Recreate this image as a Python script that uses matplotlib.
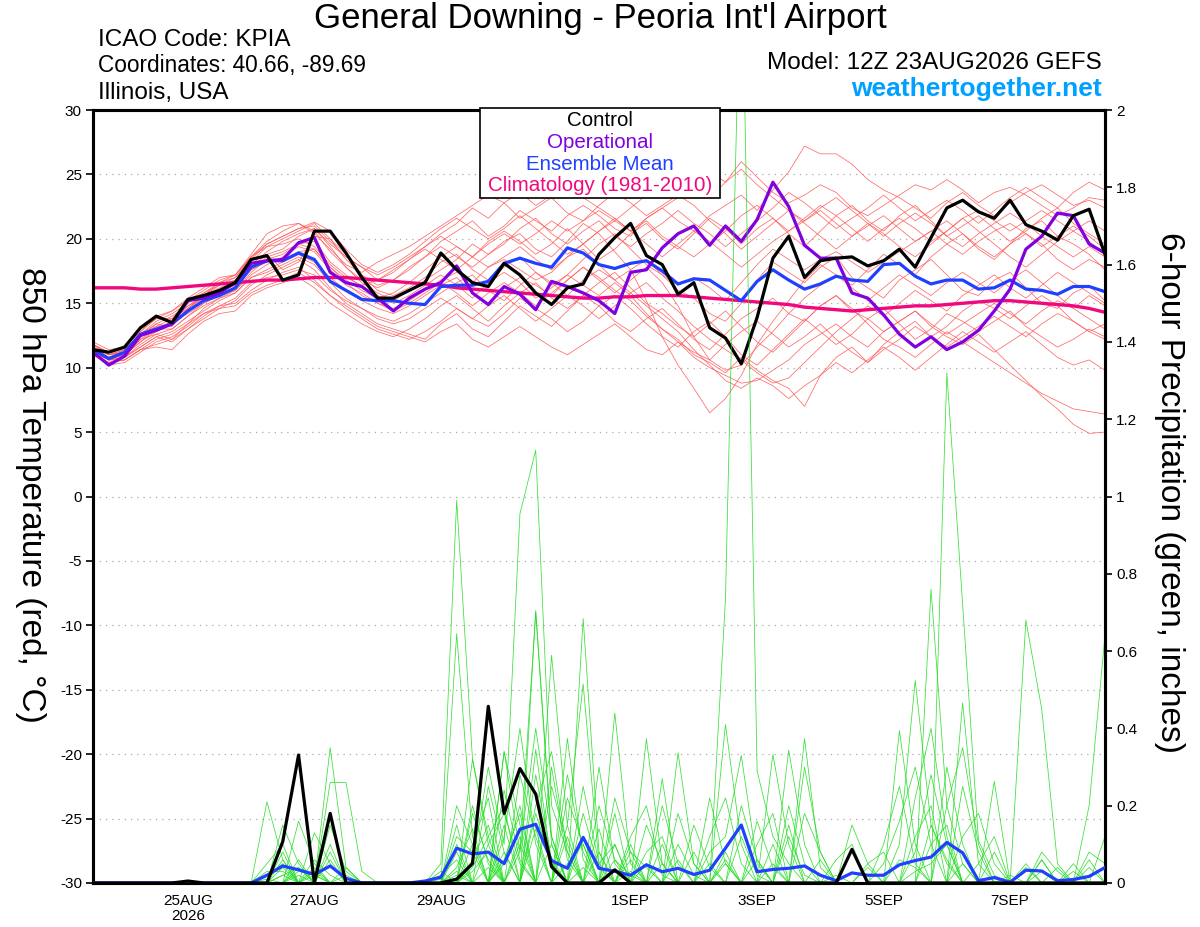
import numpy as np
import matplotlib
matplotlib.use("Agg")
import matplotlib.pyplot as plt
from matplotlib.patches import Rectangle

plt.rcParams['font.family'] = ['Liberation Sans', 'DejaVu Sans']

# 6-hourly steps, hours after 12Z 23AUG2026 (65 steps = 16 days)
hours = np.arange(0, 385, 6)

tick_hours = [36, 84, 132, 204, 252, 300, 348]
tick_labels = ['25AUG\n2026', '27AUG', '29AUG', '1SEP', '3SEP', '5SEP', '7SEP']

# ---- 850 hPa temperature (C) ----
control_t = [11.4, 11.2, 11.6, 13.1, 14.0, 13.5, 15.3, 15.6, 16.0, 16.6, 18.4, 18.7, 16.8,
             17.2, 20.6, 20.6, 18.9, 17.0, 15.4, 15.4, 16.0, 16.6, 18.9, 17.6, 16.6, 16.3,
             18.1, 17.2, 15.8, 14.9, 16.2, 16.5, 18.8, 20.1, 21.2, 18.7, 18.0, 15.7, 16.6,
             13.1, 12.3, 10.3, 13.9, 18.5, 20.2, 17.0, 18.3, 18.5, 18.6, 17.9, 18.3, 19.2,
             17.8, 20.1, 22.4, 23.0, 22.1, 21.6, 23.0, 21.1, 20.6, 19.9, 21.8, 22.3, 18.8]

oper_t = [11.2, 10.2, 10.9, 12.5, 12.9, 13.4, 15.2, 15.4, 15.8, 16.6, 18.1, 18.3, 18.4,
          19.7, 20.1, 17.4, 16.6, 16.3, 15.4, 14.4, 15.4, 16.1, 16.6, 17.9, 15.8, 14.9,
          16.3, 15.7, 14.5, 16.7, 16.3, 15.8, 15.2, 14.2, 17.4, 17.6, 19.3, 20.4, 21.0,
          19.5, 21.0, 19.8, 21.5, 24.4, 22.5, 19.5, 18.5, 18.5, 15.8, 15.4, 14.1, 12.6,
          11.6, 12.4, 11.4, 12.0, 12.9, 14.4, 16.1, 19.2, 20.2, 22.0, 21.8, 19.6, 18.9]

mean_t = [11.4, 10.7, 11.2, 12.6, 13.0, 13.4, 14.4, 15.2, 15.6, 16.2, 17.8, 18.3, 18.3,
          18.9, 18.4, 16.7, 16.0, 15.3, 15.2, 15.2, 15.0, 14.9, 16.3, 16.4, 16.4, 16.7,
          18.1, 18.5, 18.1, 17.8, 19.3, 18.9, 18.0, 17.7, 18.1, 18.3, 17.5, 16.5, 16.9,
          16.8, 16.0, 15.2, 16.7, 17.6, 16.8, 16.1, 16.5, 17.1, 16.8, 16.7, 18.0, 18.1,
          17.1, 16.5, 16.8, 16.8, 16.1, 16.2, 16.8, 16.1, 16.0, 15.7, 16.3, 16.3, 15.9]

clim_t = [16.2, 16.2, 16.2, 16.1, 16.1, 16.2, 16.3, 16.4, 16.5, 16.6, 16.7, 16.8, 16.8,
          16.9, 17.0, 17.0, 17.0, 16.9, 16.8, 16.7, 16.6, 16.5, 16.4, 16.2, 16.1, 16.0,
          15.9, 15.8, 15.7, 15.6, 15.5, 15.4, 15.4, 15.5, 15.5, 15.6, 15.6, 15.6, 15.5,
          15.4, 15.3, 15.2, 15.1, 15.0, 14.9, 14.7, 14.6, 14.5, 14.4, 14.5, 14.6, 14.7,
          14.8, 14.8, 14.9, 15.0, 15.1, 15.2, 15.2, 15.1, 15.0, 14.9, 14.8, 14.6, 14.3]

members_t = [
    [11.6, 10.8, 11.0, 12.2, 13.0, 13.6, 14.2, 15.0, 15.6, 16.0, 17.2, 18.0, 18.6,
     19.4, 19.0, 17.6, 16.4, 15.8, 15.0, 14.6, 15.2, 16.0, 16.8, 17.4, 16.6, 17.8,
     18.4, 17.6, 16.8, 17.4, 18.6, 19.2, 18.0, 16.8, 17.6, 18.4, 17.2, 16.0, 15.4,
     14.2, 13.6, 15.0, 16.8, 18.2, 17.4, 16.6, 17.8, 18.6, 17.0, 16.2, 15.4, 16.8,
     17.6, 18.4, 17.2, 16.0, 15.6, 16.8, 17.4, 16.2, 15.0, 14.6, 15.8, 16.4, 15.2],
    [11.2, 10.4, 10.6, 11.4, 11.8, 12.2, 13.0, 13.8, 14.6, 15.2, 16.4, 17.2, 17.8,
     18.4, 17.6, 16.2, 15.0, 14.2, 13.4, 13.0, 12.6, 12.2, 13.4, 14.2, 13.0, 12.4,
     13.6, 14.8, 14.0, 13.2, 14.4, 15.6, 14.8, 13.6, 12.8, 13.8, 14.6, 13.4, 12.2,
     11.4, 12.6, 13.8, 14.6, 15.4, 14.2, 13.6, 14.8, 15.6, 14.4, 13.8, 12.8, 13.6,
     14.4, 13.2, 12.4, 11.8, 12.6, 11.4, 10.2, 9.0, 7.8, 6.8, 5.6, 4.9, 5.0],
    [11.8, 11.0, 11.4, 12.6, 13.4, 13.2, 14.6, 15.4, 16.0, 16.4, 17.8, 18.8, 19.2,
     20.2, 20.8, 19.4, 17.8, 16.6, 15.8, 15.2, 16.0, 16.8, 17.6, 18.4, 19.6, 18.8,
     19.8, 20.4, 19.2, 18.6, 19.8, 21.2, 20.4, 19.0, 17.6, 15.2, 12.4, 10.2, 8.4,
     6.5, 7.6, 9.4, 11.8, 13.6, 15.2, 16.8, 18.0, 17.2, 16.4, 17.6, 18.8, 18.0,
     17.2, 18.6, 19.6, 20.4, 19.2, 18.4, 19.6, 20.8, 21.4, 20.2, 19.6, 18.8, 17.6],
    [11.4, 10.6, 10.8, 11.6, 12.4, 12.8, 13.6, 14.4, 15.2, 15.8, 17.0, 17.6, 18.2,
     18.8, 18.2, 17.0, 16.0, 15.2, 14.6, 14.2, 14.8, 15.6, 16.4, 17.0, 15.8, 15.0,
     16.2, 17.0, 16.4, 15.6, 16.8, 17.8, 17.0, 16.0, 15.2, 14.0, 13.0, 12.2, 11.0,
     10.4, 9.6, 10.8, 9.8, 9.0, 8.4, 7.0, 9.4, 10.8, 11.6, 10.4, 11.8, 12.8,
     13.6, 12.4, 13.2, 14.4, 15.2, 14.6, 13.8, 14.8, 15.6, 14.8, 13.6, 12.8, 12.2],
    [11.6, 11.0, 11.2, 12.4, 13.4, 14.0, 14.8, 15.6, 16.2, 16.8, 18.2, 19.4, 20.0,
     20.6, 21.2, 20.0, 18.4, 17.2, 16.4, 16.8, 17.6, 18.6, 19.8, 20.6, 21.4, 20.2,
     21.0, 22.2, 21.4, 20.6, 21.8, 22.6, 21.8, 20.8, 20.2, 21.6, 22.4, 21.4, 20.6,
     21.8, 22.6, 23.4, 22.2, 23.8, 25.2, 27.2, 26.6, 26.6, 25.8, 24.6, 23.8, 23.2,
     22.4, 21.6, 22.8, 23.6, 22.6, 21.8, 22.8, 23.6, 24.2, 23.4, 22.6, 23.0, 22.4],
    [11.8, 11.2, 11.6, 12.8, 13.8, 14.4, 15.2, 16.0, 16.8, 17.2, 18.6, 19.8, 20.6,
     21.2, 20.4, 19.2, 18.0, 17.4, 18.2, 18.8, 19.4, 20.2, 21.0, 21.8, 22.6, 23.4,
     22.8, 21.6, 22.4, 23.2, 22.0, 21.4, 22.6, 23.6, 22.8, 21.8, 22.6, 23.4, 24.6,
     25.2, 24.4, 26.0, 24.8, 23.6, 22.8, 23.4, 24.2, 23.6, 22.4, 21.8, 22.6, 23.4,
     24.2, 23.8, 24.6, 23.8, 22.8, 23.6, 24.0, 23.4, 22.6, 21.8, 22.4, 23.2, 23.0],
    [11.0, 10.2, 10.4, 11.2, 12.0, 12.4, 13.2, 14.2, 14.8, 15.0, 16.0, 16.8, 17.4,
     17.8, 16.8, 15.6, 14.6, 13.8, 13.0, 12.6, 12.2, 12.8, 13.6, 14.6, 13.8, 13.2,
     14.2, 15.4, 14.6, 13.8, 12.8, 13.6, 14.8, 15.6, 14.6, 13.4, 12.4, 11.6, 12.8,
     13.6, 12.4, 11.0, 10.2, 11.4, 12.6, 13.8, 12.8, 11.8, 12.6, 13.8, 14.6, 13.4,
     12.2, 13.0, 14.2, 13.6, 12.8, 13.6, 14.4, 13.2, 12.4, 11.6, 12.2, 13.0, 12.4],
    [11.4, 10.8, 11.0, 12.0, 12.8, 13.4, 14.4, 15.2, 15.8, 16.6, 18.0, 19.0, 19.8,
     20.4, 20.8, 19.6, 18.6, 17.8, 17.2, 17.8, 18.6, 19.4, 20.2, 19.4, 18.6, 19.8,
     20.6, 19.8, 18.8, 19.6, 20.8, 19.6, 18.4, 19.2, 20.4, 21.2, 20.0, 19.2, 20.4,
     21.6, 20.8, 19.6, 20.8, 21.6, 20.4, 19.4, 20.6, 21.8, 22.6, 21.4, 20.6, 21.8,
     22.6, 21.4, 20.2, 21.0, 21.8, 20.8, 19.8, 20.6, 21.6, 22.4, 21.2, 20.4, 19.6],
    [11.2, 10.6, 10.8, 11.8, 12.6, 13.0, 14.0, 14.8, 15.4, 16.0, 17.4, 18.4, 18.8,
     19.6, 19.8, 18.2, 17.2, 16.2, 15.6, 15.0, 15.6, 16.4, 17.2, 16.4, 15.4, 16.6,
     17.4, 16.6, 15.4, 16.2, 17.2, 16.4, 15.6, 16.6, 15.6, 14.2, 13.0, 12.0, 10.8,
     10.0, 9.4, 8.8, 9.0, 9.8, 10.6, 11.8, 12.6, 13.4, 12.4, 11.6, 12.8, 13.6,
     14.4, 13.4, 12.6, 13.4, 14.2, 15.0, 14.2, 13.4, 14.4, 15.2, 14.6, 13.8, 13.0],
    [11.6, 10.8, 11.2, 12.4, 13.2, 13.8, 14.6, 15.6, 16.4, 17.0, 18.4, 19.6, 20.2,
     20.8, 21.0, 19.8, 18.6, 17.8, 16.8, 17.4, 18.4, 19.4, 20.4, 21.2, 22.4, 21.6,
     22.8, 23.6, 22.6, 23.4, 24.2, 23.2, 22.4, 21.6, 20.6, 21.4, 20.2, 19.4, 18.6,
     19.6, 20.6, 21.8, 22.6, 21.6, 20.6, 21.4, 22.2, 21.2, 20.2, 21.0, 21.8, 20.8,
     19.8, 20.6, 21.4, 20.4, 19.4, 18.6, 19.6, 20.4, 19.6, 18.4, 17.6, 18.4, 17.8],
    [11.0, 10.4, 10.6, 11.4, 11.6, 11.4, 12.6, 13.6, 14.2, 14.4, 15.6, 16.2, 16.6,
     17.0, 16.2, 15.0, 14.2, 13.4, 12.8, 12.4, 13.0, 13.8, 14.8, 15.6, 14.6, 13.6,
     14.8, 15.8, 16.6, 15.4, 14.6, 15.6, 16.6, 17.4, 16.2, 15.0, 14.2, 13.2, 12.4,
     13.4, 14.4, 13.2, 12.0, 11.2, 12.4, 13.6, 14.8, 15.6, 14.6, 13.4, 12.2, 11.6,
     10.8, 11.8, 12.8, 12.0, 11.2, 10.4, 9.6, 8.8, 8.0, 7.4, 6.8, 6.6, 6.4],
    [11.8, 11.2, 11.6, 13.0, 13.8, 13.8, 15.2, 15.8, 16.4, 16.8, 18.4, 18.8, 17.6,
     18.2, 20.2, 20.0, 18.8, 17.2, 16.0, 15.6, 16.2, 17.0, 18.2, 18.8, 17.6, 16.8,
     17.8, 18.6, 17.4, 16.4, 17.2, 18.4, 19.6, 20.4, 19.2, 18.0, 17.2, 16.4, 17.0,
     16.2, 15.2, 16.6, 18.0, 19.2, 18.4, 17.6, 18.4, 19.0, 18.2, 17.4, 18.2, 19.0,
     19.8, 20.6, 19.6, 18.8, 19.8, 20.6, 21.2, 20.4, 19.4, 20.2, 21.0, 20.2, 19.2],
    [11.4, 10.6, 11.0, 12.2, 12.6, 12.2, 13.4, 14.6, 15.4, 15.8, 17.0, 17.4, 18.0,
     18.6, 18.0, 16.6, 15.4, 14.6, 14.0, 13.6, 14.2, 15.0, 15.8, 16.6, 17.2, 16.0,
     15.2, 16.4, 17.4, 16.6, 15.6, 16.8, 17.6, 16.8, 15.8, 16.6, 15.4, 14.4, 13.2,
     12.2, 11.4, 10.6, 9.6, 8.8, 9.2, 10.4, 11.6, 12.8, 13.8, 14.8, 14.0, 15.0,
     16.0, 15.2, 14.4, 15.6, 16.4, 17.2, 16.2, 15.4, 16.4, 17.4, 16.6, 15.8, 15.0],
    [12.0, 11.4, 11.6, 12.8, 14.0, 14.4, 15.4, 16.2, 17.0, 17.2, 18.8, 20.4, 21.0,
     21.2, 20.6, 19.0, 17.8, 16.8, 16.2, 16.8, 17.8, 18.6, 19.4, 18.6, 17.8, 18.8,
     19.6, 20.8, 21.6, 20.4, 19.6, 20.6, 21.4, 20.2, 19.4, 20.4, 21.2, 22.2, 21.2,
     20.4, 19.4, 20.4, 21.4, 22.4, 23.6, 22.8, 21.8, 20.8, 21.6, 22.4, 23.4, 22.4,
     21.4, 22.2, 23.0, 22.2, 21.2, 22.2, 23.2, 24.0, 23.2, 22.4, 23.6, 24.4, 23.8],
    [11.2, 10.6, 10.6, 11.4, 12.2, 12.6, 13.4, 14.2, 14.6, 14.8, 15.8, 16.4, 16.8,
     17.4, 16.6, 15.6, 14.8, 14.0, 13.2, 12.8, 12.4, 12.0, 12.8, 13.4, 12.2, 11.6,
     12.4, 13.2, 12.4, 11.6, 11.0, 11.8, 12.6, 13.4, 12.4, 11.4, 11.0, 12.0, 11.2,
     10.6, 11.8, 12.8, 13.6, 12.6, 11.6, 12.4, 13.4, 12.2, 11.2, 10.4, 11.4, 12.2,
     13.2, 12.4, 11.6, 12.4, 13.2, 14.0, 13.2, 12.4, 13.4, 14.2, 13.6, 12.8, 13.4],
    [11.4, 10.8, 11.4, 12.6, 13.6, 14.2, 15.0, 15.8, 16.6, 17.0, 18.6, 19.4, 19.6,
     20.0, 19.4, 18.0, 17.0, 16.4, 16.8, 17.6, 18.4, 19.2, 18.4, 17.6, 18.6, 19.6,
     20.4, 19.6, 20.4, 21.4, 20.6, 21.4, 22.2, 21.4, 22.4, 23.4, 24.2, 23.4, 22.6,
     21.4, 20.4, 19.2, 20.2, 21.2, 22.2, 21.2, 20.2, 19.2, 20.2, 21.2, 20.4, 19.4,
     18.6, 19.6, 20.6, 21.6, 20.6, 19.6, 18.6, 17.8, 18.8, 19.8, 20.6, 19.8, 18.8],
    [11.6, 11.0, 11.2, 12.4, 13.0, 13.0, 14.0, 15.0, 15.6, 16.2, 17.6, 18.2, 18.4,
     19.0, 19.2, 17.8, 16.6, 15.6, 15.0, 14.4, 15.0, 15.8, 16.6, 15.8, 14.8, 15.8,
     16.6, 15.8, 14.8, 15.8, 16.8, 17.8, 16.8, 15.8, 16.8, 17.8, 16.6, 14.8, 12.4,
     10.6, 9.8, 10.2, 11.6, 12.8, 14.2, 15.4, 16.4, 17.2, 16.2, 15.2, 16.2, 17.2,
     16.4, 15.6, 16.6, 17.4, 16.6, 15.8, 16.8, 17.6, 16.6, 15.6, 14.6, 15.6, 14.8],
    [11.8, 11.0, 11.4, 12.6, 13.2, 13.4, 14.6, 15.6, 16.6, 17.2, 18.6, 19.6, 20.2,
     20.8, 21.3, 20.6, 19.2, 18.0, 17.4, 18.0, 18.8, 19.8, 20.8, 21.6, 20.8, 20.0,
     20.8, 21.8, 20.8, 19.8, 18.8, 19.6, 20.6, 21.6, 20.6, 19.6, 18.6, 19.6, 20.6,
     19.8, 18.8, 17.8, 18.8, 19.8, 20.6, 21.6, 22.6, 21.8, 20.8, 19.8, 20.8, 21.6,
     20.8, 19.8, 20.6, 21.6, 22.2, 21.4, 20.6, 21.4, 22.2, 21.4, 20.6, 21.4, 20.6],
    [11.0, 10.4, 10.8, 11.6, 12.4, 12.0, 13.0, 14.0, 14.8, 15.4, 16.6, 17.0, 17.2,
     17.6, 17.2, 16.0, 15.2, 14.6, 13.8, 13.4, 13.8, 14.6, 15.4, 14.6, 13.8, 14.8,
     15.6, 14.6, 13.6, 14.6, 15.6, 14.8, 13.8, 14.8, 15.8, 14.8, 13.8, 12.8, 11.4,
     10.2, 9.0, 8.4, 9.2, 8.6, 7.6, 8.6, 9.4, 10.4, 9.6, 10.6, 11.6, 10.8,
     9.8, 10.8, 11.8, 12.8, 12.0, 11.2, 12.0, 12.8, 11.8, 10.8, 10.2, 10.6, 9.8],
    [11.4, 10.6, 11.0, 12.0, 13.0, 13.6, 14.8, 15.4, 16.0, 16.4, 17.6, 18.6, 19.0,
     19.6, 19.2, 17.8, 16.8, 16.0, 15.4, 15.8, 16.6, 17.6, 18.6, 19.4, 18.6, 17.8,
     18.6, 19.4, 18.4, 17.6, 18.6, 19.6, 20.6, 21.4, 20.6, 21.6, 22.4, 23.2, 24.0,
     23.2, 24.4, 25.4, 24.2, 23.2, 22.2, 21.4, 22.4, 23.2, 22.2, 21.2, 20.2, 21.2,
     22.0, 21.2, 20.2, 19.4, 20.4, 21.2, 22.0, 21.2, 20.2, 19.4, 18.6, 19.4, 18.6],
]

# ---- 6-hour precipitation (inches) ----
control_p = [0, 0, 0, 0, 0, 0, 0.005, 0, 0, 0, 0, 0, 0.107,
             0.331, 0, 0.18, 0, 0, 0, 0, 0, 0, 0, 0.01, 0.05, 0.457,
             0.18, 0.296, 0.23, 0.042, 0, 0, 0, 0.034, 0, 0, 0, 0, 0,
             0, 0, 0, 0, 0, 0, 0, 0, 0, 0.087, 0, 0, 0,
             0, 0, 0, 0, 0, 0, 0, 0, 0, 0, 0, 0, 0]

mean_p = [0, 0, 0, 0, 0, 0, 0, 0, 0, 0, 0, 0.02, 0.044,
          0.034, 0.022, 0.044, 0.012, 0, 0, 0, 0, 0.005, 0.015, 0.09, 0.075, 0.08,
          0.05, 0.139, 0.152, 0.058, 0.038, 0.118, 0.038, 0.03, 0.02, 0.047, 0.029, 0.038, 0.022,
          0.033, 0.09, 0.15, 0.029, 0.035, 0.038, 0.044, 0.02, 0.006, 0.026, 0.02, 0.02, 0.047,
          0.058, 0.067, 0.105, 0.078, 0.006, 0.014, 0.002, 0.033, 0.031, 0.006, 0.009, 0.017, 0.04]

# non-zero steps of each member, {step index: inches}
members_p = [
    {11: 0.21, 12: 0.06, 22: 0.05, 23: 0.99, 24: 0.32, 25: 0.10, 27: 0.12, 30: 0.05, 31: 0.10,
     34: 0.03, 40: 0.05, 52: 0.03, 53: 0.05, 54: 0.10},
    {12: 0.15, 13: 0.05, 15: 0.35, 16: 0.04, 23: 0.645, 24: 0.12, 26: 0.34, 27: 0.08, 28: 0.70,
     29: 0.10, 33: 0.44, 34: 0.05, 40: 0.736, 41: 2.5, 42: 0.29, 43: 0.12, 44: 0.05, 55: 0.05},
    {15: 0.26, 16: 0.26, 17: 0.03, 24: 0.05, 25: 0.30, 26: 0.10, 27: 0.955, 28: 1.12, 29: 0.20,
     30: 0.08, 33: 0.10, 35: 0.373, 36: 0.05, 51: 0.10, 52: 0.524, 53: 0.15, 54: 0.05},
    {13: 0.16, 14: 0.05, 23: 0.20, 24: 0.10, 26: 0.15, 28: 0.705, 29: 0.12, 31: 0.684, 32: 0.08,
     37: 0.337, 38: 0.05, 45: 0.373, 46: 0.04, 53: 0.76, 54: 0.20, 55: 0.05},
    {12: 0.08, 14: 0.13, 15: 0.05, 22: 0.03, 24: 0.32, 25: 0.12, 29: 0.589, 30: 0.15, 31: 0.515,
     32: 0.05, 36: 0.27, 39: 0.22, 40: 0.05, 54: 1.32, 55: 0.72, 56: 0.11, 57: 0.02},
    {11: 0.05, 12: 0.10, 16: 0.04, 23: 0.08, 26: 0.34, 27: 0.15, 30: 0.374, 31: 0.06, 34: 0.10,
     40: 0.41, 41: 0.10, 43: 0.333, 44: 0.10, 52: 0.12, 53: 0.20, 55: 0.466, 56: 0.05},
    {13: 0.06, 15: 0.10, 24: 0.06, 25: 0.15, 28: 0.345, 29: 0.05, 31: 0.18, 32: 0.04, 35: 0.08,
     36: 0.12, 42: 0.06, 44: 0.344, 45: 0.10, 51: 0.394, 52: 0.10, 59: 0.68, 60: 0.45, 61: 0.05},
    {12: 0.04, 14: 0.03, 23: 0.12, 24: 0.08, 26: 0.05, 27: 0.20, 30: 0.15, 33: 0.06, 34: 0.02,
     37: 0.10, 38: 0.02, 47: 0.06, 48: 0.10, 57: 0.263, 63: 0.20, 64: 0.64},
    {13: 0.03, 14: 0.02, 25: 0.10, 26: 0.18, 27: 0.05, 29: 0.25, 30: 0.10, 32: 0.30, 33: 0.05,
     39: 0.08, 40: 0.12, 41: 0.33, 42: 0.05, 50: 0.05, 51: 0.16, 52: 0.30, 53: 0.10},
    {11: 0.02, 12: 0.05, 15: 0.06, 24: 0.20, 25: 0.05, 27: 0.28, 28: 0.12, 31: 0.12, 35: 0.15,
     36: 0.05, 46: 0.06, 48: 0.15, 49: 0.05, 56: 0.05, 57: 0.12, 60: 0.08, 61: 0.03},
    {14: 0.02, 23: 0.15, 25: 0.25, 26: 0.08, 28: 0.18, 29: 0.05, 33: 0.22, 34: 0.08, 37: 0.18,
     38: 0.05, 43: 0.10, 45: 0.30, 46: 0.08, 54: 0.20, 55: 0.35, 56: 0.10},
    {12: 0.02, 13: 0.04, 23: 0.04, 24: 0.14, 26: 0.24, 27: 0.06, 30: 0.22, 31: 0.10, 34: 0.06,
     36: 0.20, 37: 0.05, 42: 0.10, 43: 0.18, 52: 0.08, 53: 0.28, 54: 0.10, 62: 0.05},
    {13: 0.02, 15: 0.15, 16: 0.03, 24: 0.10, 25: 0.22, 28: 0.28, 29: 0.06, 32: 0.14, 35: 0.05,
     39: 0.12, 40: 0.22, 41: 0.05, 50: 0.10, 51: 0.25, 52: 0.05, 60: 0.06, 63: 0.08, 64: 0.05},
    {11: 0.03, 12: 0.03, 22: 0.02, 23: 0.06, 26: 0.12, 27: 0.40, 28: 0.10, 31: 0.25, 32: 0.05,
     33: 0.10, 38: 0.15, 39: 0.04, 44: 0.20, 45: 0.05, 55: 0.25, 56: 0.08, 59: 0.05},
    {14: 0.04, 24: 0.03, 25: 0.08, 27: 0.10, 29: 0.30, 30: 0.06, 34: 0.12, 35: 0.20, 36: 0.02,
     41: 0.12, 42: 0.02, 47: 0.02, 49: 0.04, 53: 0.15, 54: 0.06, 58: 0.02, 61: 0.04},
    {12: 0.06, 15: 0.08, 23: 0.10, 26: 0.08, 28: 0.14, 30: 0.28, 31: 0.08, 37: 0.06, 40: 0.08,
     44: 0.15, 52: 0.22, 53: 0.40, 54: 0.12, 60: 0.06, 62: 0.03},
    {13: 0.04, 24: 0.18, 25: 0.06, 28: 0.20, 29: 0.34, 30: 0.08, 33: 0.18, 36: 0.10, 43: 0.05,
     45: 0.18, 46: 0.08, 55: 0.12, 56: 0.18, 57: 0.05, 63: 0.04},
    {12: 0.02, 23: 0.03, 26: 0.06, 27: 0.18, 30: 0.12, 32: 0.20, 33: 0.06, 38: 0.08, 42: 0.16,
     43: 0.04, 49: 0.05, 50: 0.08, 54: 0.30, 55: 0.10, 60: 0.03},
    {14: 0.06, 15: 0.02, 22: 0.01, 24: 0.04, 25: 0.12, 26: 0.20, 29: 0.10, 31: 0.04, 34: 0.08,
     35: 0.04, 40: 0.06, 44: 0.12, 45: 0.02, 51: 0.06, 52: 0.04, 57: 0.08, 64: 0.12},
    {11: 0.01, 16: 0.02, 23: 0.02, 25: 0.04, 27: 0.08, 28: 0.40, 29: 0.12, 32: 0.08, 36: 0.05,
     39: 0.05, 41: 0.20, 42: 0.06, 53: 0.10, 54: 0.15, 59: 0.04, 63: 0.06},
]

RED = '#ff5a5a'
GREEN = '#22dd22'
PURPLE = '#8000e0'
BLUE = '#2040ff'
PINK = '#f0087f'

fig = plt.figure(figsize=(12, 9.27), dpi=100)
ax = fig.add_axes([0.0775, 0.0475, 0.8433, 0.8338])
ax2 = ax.twinx()

for m in members_t:
    ax.plot(hours, m, color=RED, lw=0.55, alpha=0.9)

ax.plot(hours, clim_t, color=PINK, lw=2.4, zorder=5)
ax.plot(hours, mean_t, color=BLUE, lw=2.3, zorder=6)
ax.plot(hours, oper_t, color=PURPLE, lw=2.3, zorder=7)
ax.plot(hours, control_t, color='black', lw=2.3, zorder=8)

for m in members_p:
    vals = np.zeros(len(hours))
    for k, v in m.items():
        vals[k] = v
    ax2.plot(hours, vals, color=GREEN, lw=0.55, alpha=0.9)
ax2.plot(hours, mean_p, color=BLUE, lw=2.3, zorder=6)
ax2.plot(hours, control_p, color='black', lw=2.3, zorder=7)

ax.set_xlim(0, 384)
ax.set_ylim(-30, 30)
ax2.set_ylim(0, 2)

ax.set_yticks(np.arange(-30, 31, 5))
ax.set_yticklabels([str(v) for v in range(-30, 31, 5)], fontsize=11)
for v in range(-25, 30, 5):
    ax.axhline(v, color='#aaaaaa', lw=0.9, ls=(0, (1, 4)), zorder=0)

ptick = np.round(np.arange(0, 2.01, 0.2), 1)
ax2.set_yticks(ptick)
ax2.set_yticklabels(['0' if v == 0 else ('%g' % v) for v in ptick], fontsize=11)

ax.set_xticks(tick_hours)
ax.set_xticklabels(tick_labels, fontsize=11, linespacing=1.1)
ax.tick_params(axis='x', length=0, pad=8)
ax.tick_params(axis='y', length=5, width=1.2, direction='out', pad=3)
ax2.tick_params(axis='y', length=5, width=1.2, direction='out', pad=3)

for a in (ax, ax2):
    for s in a.spines.values():
        s.set_linewidth(2.2)

# axis titles
fig.text(30 / 1200, 1 - 495 / 927, '850 hPa Temperature (red, °C)', fontsize=24,
         rotation=270, ha='center', va='center')
fig.text(1170 / 1200, 1 - 493 / 927, '6-hour Precipitation (green, inches)', fontsize=24,
         rotation=270, ha='center', va='center')

# header texts
fig.text(0.5, 0.98, "General Downing - Peoria Int'l Airport", ha='center', va='center',
         fontsize=25)
fig.text(0.0817, 0.957, 'ICAO Code: KPIA', ha='left', va='center', fontsize=17.5)
fig.text(0.0817, 0.929, 'Coordinates: 40.66, -89.69', ha='left', va='center', fontsize=16.3)
fig.text(0.0817, 0.900, 'Illinois, USA', ha='left', va='center', fontsize=17.5)
fig.text(0.918, 0.932, 'Model: 12Z 23AUG2026 GEFS', ha='right', va='center', fontsize=17.5)
fig.text(0.918, 0.904, 'weathertogether.net', ha='right', va='center', fontsize=19,
         fontweight='bold', color='#00a0ff')

# legend box
bx0, bx1 = 480 / 1200, 720 / 1200
by0, by1 = 1 - 198 / 927, 1 - 108 / 927
fig.add_artist(Rectangle((bx0, by0), bx1 - bx0, by1 - by0, transform=fig.transFigure,
                         facecolor='white', edgecolor='black', lw=1.2, zorder=10))
leg = [('Control', 'black'), ('Operational', PURPLE), ('Ensemble Mean', BLUE),
       ('Climatology (1981-2010)', PINK)]
for k, (txt, col) in enumerate(leg):
    fig.text(0.5, 1 - (121 + 21.5 * k) / 927, txt, ha='center', va='center', fontsize=14.8,
             color=col, zorder=11)

fig.savefig('out.png', dpi=100)
